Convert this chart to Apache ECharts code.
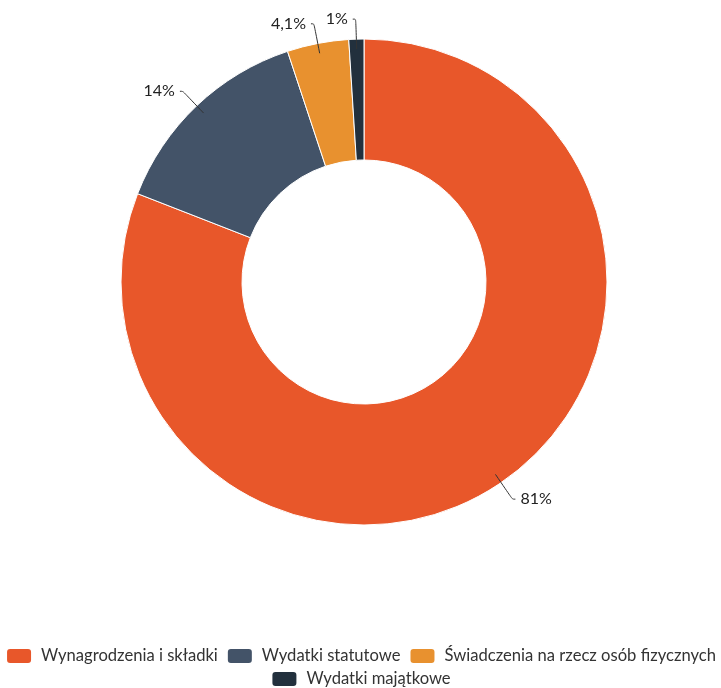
<!DOCTYPE html>
<html><head><meta charset="utf-8">
<script src="https://cdn.jsdelivr.net/npm/echarts@6/dist/echarts.min.js"></script>
<style>html,body{margin:0;padding:0;background:#fff}#c{width:721px;height:688px}</style>
</head><body><div id="c"></div>
<script>
const categories = ['Wynagrodzenia i składki', 'Wydatki statutowe', 'Świadczenia na rzecz osób fizycznych', 'Wydatki majątkowe'];
const values = [81, 14, 4.1, 1];
const colors = ['#E8572A', '#435368', '#E8912F', '#22303D'];

const data = categories.map((n, i) => ({ name: n, value: values[i] }));
const legendBase = {
  left: 'center',
  padding: 0,
  itemWidth: 26,
  itemHeight: 16,
  itemGap: 8,
  textStyle: { fontSize: 16.6, color: '#333', fontFamily: 'Lato', padding: [0, 0, 0, 4] }
};
const chart = echarts.init(document.getElementById('c'), null, { renderer: 'canvas' });
chart.setOption({
  animation: false,
  color: colors,
  textStyle: { fontFamily: 'Lato' },
  legend: [
    Object.assign({}, legendBase, { top: 647, data: categories.slice(0, 3) }),
    Object.assign({}, legendBase, { top: 670, data: categories.slice(3) })
  ],
  series: [
    {
      type: 'pie',
      center: [364, 282],
      radius: [122, 243],
      startAngle: 90,
      clockwise: true,
      data: data,
      label: { show: false },
      labelLine: { show: false },
      itemStyle: { borderColor: '#fff', borderWidth: 1 },
      emphasis: { disabled: true }
    },
    {
      type: 'pie',
      center: [364, 282],
      radius: [0, 233],
      startAngle: 90,
      clockwise: true,
      silent: true,
      z: 5,
      avoidLabelOverlap: false,
      data: data.map(d => ({ name: d.name, value: d.value, itemStyle: { color: 'rgba(0,0,0,0)' } })),
      itemStyle: { color: 'rgba(0,0,0,0)' },
      label: {
        show: true,
        position: 'outside',
        fontFamily: 'Lato',
        fontSize: 16,
        color: '#222',
        formatter: p => String(p.value).replace('.', ',') + '%'
      },
      labelLine: { show: true, length: 30, length2: 3, smooth: true, lineStyle: { color: '#333', width: 1 } },
      emphasis: { disabled: true }
    }
  ]
});
</script></body></html>
